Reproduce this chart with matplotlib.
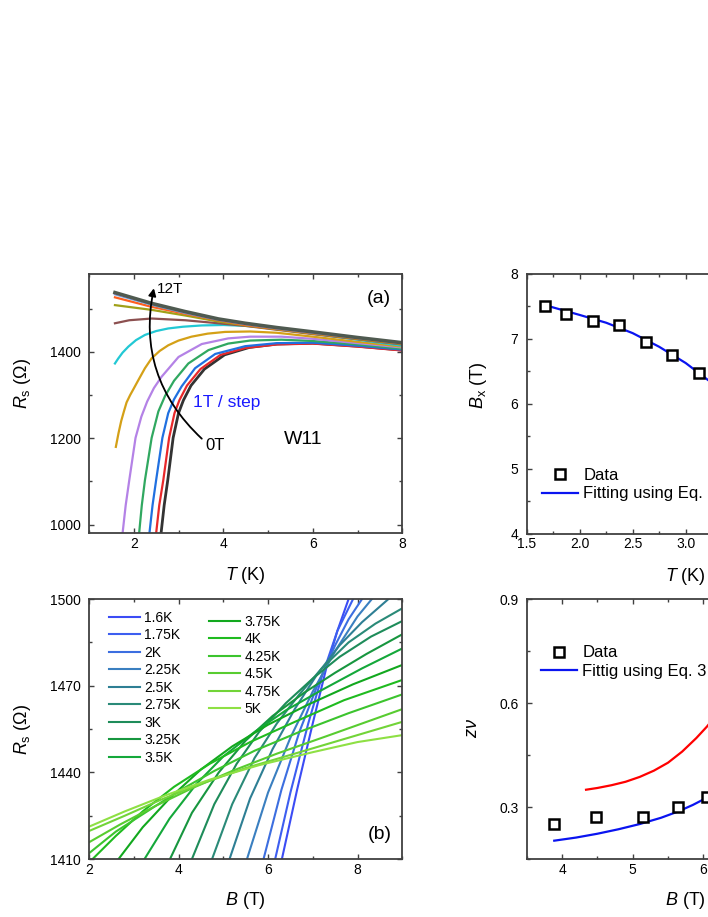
import matplotlib.pyplot as plt
from matplotlib.ticker import MultipleLocator, FormatStrFormatter

plt.rcParams['font.family'] = ['Liberation Sans', 'DejaVu Sans']
plt.rcParams['mathtext.fontset'] = 'custom'
plt.rcParams['mathtext.rm'] = 'Liberation Sans'
plt.rcParams['mathtext.it'] = 'Liberation Sans:italic'
plt.rcParams['mathtext.bf'] = 'Liberation Sans:bold'

# ---- (a) R_s(T) at fixed field, 0T .. 12T ----
T_0T = [2.57, 2.61, 2.68, 2.76, 2.88, 3.00, 3.11, 3.28, 3.58, 4.03, 4.58, 5.2, 6.0, 7.0, 8.0]
R_0T = [900, 980, 1045, 1103, 1201, 1258, 1288, 1322, 1360, 1393, 1410, 1418, 1420, 1413, 1404]
T_1T = [2.46, 2.50, 2.57, 2.66, 2.79, 2.91, 3.02, 3.19, 3.49, 3.94, 4.50, 5.2, 6.0, 7.0, 8.0]
R_1T = [900, 980, 1045, 1103, 1201, 1258, 1288, 1322, 1360, 1393, 1409, 1417, 1419, 1412, 1403]
T_2T = [2.31, 2.35, 2.42, 2.50, 2.64, 2.77, 2.90, 3.07, 3.37, 3.82, 4.49, 5.2, 6.0, 7.0, 8.0]
R_2T = [900, 980, 1045, 1103, 1201, 1258, 1290, 1320, 1362, 1395, 1413, 1420, 1421, 1414, 1405]
T_3T = [2.09, 2.12, 2.18, 2.25, 2.40, 2.55, 2.70, 2.90, 3.22, 3.67, 4.11, 4.6, 5.3, 6.0, 7.0, 8.0]
R_3T = [900, 980, 1045, 1103, 1201, 1262, 1298, 1333, 1373, 1404, 1419, 1426, 1428, 1425, 1417, 1407]
T_4T = [1.72, 1.75, 1.82, 1.90, 2.04, 2.17, 2.30, 2.45, 2.62, 3.0, 3.52, 4.11, 4.6, 5.3, 6.0, 7.0, 8.0]
R_4T = [900, 980, 1045, 1103, 1201, 1250, 1285, 1316, 1342, 1388, 1418, 1431, 1435, 1435, 1430, 1420, 1410]
T_5T = [1.60, 1.66, 1.72, 1.78, 1.84, 1.92, 2.00, 2.10, 2.25, 2.40, 2.58, 2.77, 3.0, 3.29, 3.65, 4.04,
        4.6, 5.2, 6.0, 7.0, 8.0]
R_5T = [1180, 1212, 1240, 1262, 1283, 1300, 1315, 1334, 1362, 1385, 1402, 1415, 1426, 1435, 1442, 1446,
        1447, 1444, 1435, 1423, 1412]
T_6T = [1.58, 1.65, 1.75, 1.88, 2.05, 2.25, 2.50, 2.77, 3.1, 3.52, 4.0, 4.5, 5.2, 6.0, 7.0, 8.0]
R_6T = [1373, 1384, 1398, 1412, 1427, 1439, 1448, 1454, 1458, 1461, 1462, 1460, 1454, 1442, 1428, 1414]
T_7T = [1.58, 1.9, 2.4, 3.15, 3.89, 4.49, 5.2, 6.0, 7.0, 8.0]
R_7T = [1466, 1473, 1477, 1473, 1466, 1460, 1451, 1441, 1429, 1417]
T_hi = [1.58, 2.4, 3.15, 3.89, 4.49, 5.2, 6.0, 7.0, 8.0]
R_8T = [1508, 1497, 1484, 1470, 1461, 1452, 1442, 1430, 1418]
R_9T = [1526, 1504, 1488, 1473, 1462, 1453, 1443, 1431, 1419]
R_10T = [1533, 1509, 1490, 1474, 1464, 1454, 1444, 1432, 1420]
R_11T = [1535, 1511, 1492, 1475, 1465, 1455, 1445, 1432.5, 1420.5]
R_12T = [1537, 1512, 1493, 1476, 1466, 1456, 1446, 1433, 1421]

# ---- crossing field B_x vs T ----
T_cross = [1.675, 1.875, 2.125, 2.375, 2.625, 2.875, 3.125]
Bx_data = [7.50, 7.38, 7.27, 7.21, 6.95, 6.75, 6.47]
T_fit = [1.675, 2.0, 2.25, 2.5, 2.75, 3.0, 3.25, 3.4]
Bx_fit = [7.52, 7.37, 7.25, 7.09, 6.88, 6.63, 6.32, 6.10]

# ---- (b) R_s(B) isotherms ----
B_160 = [6.31, 6.65, 7.0, 7.3, 7.55, 7.8]
R_160 = [1410, 1434, 1457, 1476, 1489, 1500]
B_175 = [6.16, 6.5, 6.9, 7.2, 7.55, 7.9]
R_175 = [1410, 1433, 1457, 1473, 1489, 1500]
B_200 = [5.90, 6.3, 6.7, 7.1, 7.5, 7.8, 8.1]
R_200 = [1410, 1434, 1454, 1470, 1484, 1493, 1500]
B_225 = [5.53, 6.0, 6.5, 7.0, 7.5, 8.0, 8.32]
R_225 = [1410, 1433, 1452, 1468, 1482, 1494, 1500]
B_250 = [5.14, 5.6, 6.1, 6.6, 7.1, 7.6, 8.1, 8.69]
R_250 = [1410, 1431, 1448, 1462, 1474, 1484, 1492, 1500]
B_275 = [4.75, 5.2, 5.7, 6.2, 6.7, 7.2, 7.8, 8.4, 9.0]
R_275 = [1410, 1429, 1445, 1457, 1467, 1476, 1485, 1491.5, 1496.8]
B_300 = [4.30, 4.8, 5.3, 5.8, 6.4, 7.0, 7.6, 8.3, 9.0]
R_300 = [1410, 1429, 1443, 1454, 1464, 1472.5, 1480, 1487, 1492.4]
B_325 = [3.81, 4.3, 4.9, 5.5, 6.1, 6.8, 7.5, 8.2, 9.0]
R_325 = [1410, 1426, 1440, 1451, 1459.5, 1467.5, 1474.5, 1481, 1487.8]
B_350 = [3.24, 3.8, 4.4, 5.0, 5.7, 6.4, 7.2, 8.1, 9.0]
R_350 = [1410, 1424, 1436, 1445.5, 1454, 1461.5, 1468.5, 1476, 1482.9]
B_375 = [2.66, 3.2, 3.8, 4.5, 5.2, 6.0, 6.9, 7.9, 9.0]
R_375 = [1410, 1421, 1431, 1441, 1449, 1456.5, 1463.5, 1470.5, 1477.2]
B_400 = [2.08, 2.6, 3.2, 3.9, 4.7, 5.6, 6.6, 7.7, 9.0]
R_400 = [1410, 1418, 1426.5, 1435, 1443, 1450.5, 1457.5, 1465, 1472]
B_425 = [2.0, 2.6, 3.3, 4.0, 4.8, 5.7, 6.7, 7.8, 9.0]
R_425 = [1412, 1419.5, 1426.5, 1433.5, 1440.5, 1447.5, 1454, 1460.5, 1467]
B_450 = [2.0, 2.7, 3.5, 4.3, 5.2, 6.2, 7.3, 9.0]
R_450 = [1415.8, 1422, 1428.5, 1434.5, 1440.5, 1446.5, 1452.5, 1461.9]
B_475 = [2.0, 2.8, 3.6, 4.5, 5.5, 6.6, 7.8, 9.0]
R_475 = [1419.7, 1425, 1430.5, 1436, 1441.5, 1446.5, 1452, 1457.5]
B_500 = [2.0, 2.8, 3.7, 4.7, 5.8, 7.0, 8.0, 9.0]
R_500 = [1421.2, 1426.5, 1432, 1437.5, 1442.5, 1447, 1450.5, 1452.9]

# ---- z*nu vs B ----
B_zn = [3.88, 4.48, 5.14, 5.64, 6.05]
zn_data = [0.251, 0.271, 0.271, 0.301, 0.330]
B_zn_fit = [3.89, 4.2, 4.5, 4.8, 5.1, 5.4, 5.64, 5.85, 6.05, 6.3]
zn_fit = [0.203, 0.212, 0.223, 0.236, 0.251, 0.269, 0.287, 0.306, 0.327, 0.357]
B_zn_red = [4.34, 4.5, 4.7, 4.9, 5.1, 5.3, 5.5, 5.7, 5.9, 6.05, 6.3]
zn_red = [0.350, 0.355, 0.363, 0.373, 0.387, 0.405, 0.428, 0.460, 0.499, 0.532, 0.595]

spine_c = '#404040'


def style(ax):
    for s in ax.spines.values():
        s.set_color(spine_c)
        s.set_linewidth(1.3)
    ax.tick_params(which='both', direction='in', top=True, right=True,
                   color=spine_c, width=1.0, labelsize=10)
    ax.tick_params(which='major', length=3.5)
    ax.tick_params(which='minor', length=2.2)
    ax.tick_params(axis='x', pad=2.5)
    ax.tick_params(axis='y', pad=6)


fig = plt.figure(figsize=(7.08, 9.17), dpi=100)

# (a)
ax1 = fig.add_axes([0.1257, 0.4184, 0.4425, 0.2828])
curves_a = [
    (T_0T, R_0T, '#333333', 2.0), (T_1T, R_1T, '#e8282a', 1.6),
    (T_2T, R_2T, '#2070e0', 1.6), (T_3T, R_3T, '#30a860', 1.6),
    (T_4T, R_4T, '#b482e6', 1.6), (T_5T, R_5T, '#d4a017', 1.6),
    (T_6T, R_6T, '#22c8d4', 1.6), (T_7T, R_7T, '#8c5050', 1.6),
    (T_hi, R_8T, '#a0a018', 1.6), (T_hi, R_9T, '#ff6020', 1.6),
    (T_hi, R_10T, '#60a8e8', 1.6), (T_hi, R_11T, '#e377c2', 1.6),
    (T_hi, R_12T, '#4f5a50', 2.6),
]
for t, r, c, lw in curves_a:
    ax1.plot(t, r, color=c, lw=lw)
ax1.set_xlim(1, 8)
ax1.set_ylim(980, 1580)
ax1.xaxis.set_major_locator(MultipleLocator(2))
ax1.xaxis.set_minor_locator(MultipleLocator(1))
ax1.yaxis.set_major_locator(MultipleLocator(200))
ax1.yaxis.set_minor_locator(MultipleLocator(100))
style(ax1)
ax1.set_xlabel(r'$T$ (K)', fontsize=13, va='center')
ax1.set_ylabel(r'$R_\mathrm{s}$ (Ω)', fontsize=13, va='center')
ax1.xaxis.set_label_coords(0.5, -0.161)
ax1.yaxis.set_label_coords(-0.212, 0.578)
ax1.annotate('', xy=(2.45, 1547), xytext=(3.52, 1199),
             arrowprops=dict(arrowstyle='-|>', connectionstyle='arc3,rad=-0.28',
                             color='k', lw=1.3, shrinkA=0, shrinkB=0, mutation_scale=11))
ax1.text(2.51, 1545, '12T', fontsize=11, ha='left', va='center')
ax1.text(3.61, 1184, '0T', fontsize=12, ha='left', va='center')
ax1.text(3.33, 1283, '1T / step', fontsize=12.5, color='#1a1aff', ha='left', va='center')
ax1.text(5.36, 1197, 'W11', fontsize=14, ha='left', va='center')
ax1.text(0.887, 0.907, '(a)', fontsize=14, transform=ax1.transAxes, ha='left', va='center')

# B_x vs T
ax2 = fig.add_axes([0.7439, 0.4177, 0.4492, 0.2835])
ax2.plot(T_fit, Bx_fit, color='#0a14f0', lw=1.6, label='Fitting using Eq. 2')
ax2.plot(T_cross, Bx_data, ls='none', marker='s', ms=7, mfc='white', mec='k', mew=1.8,
         label='Data')
ax2.set_xlim(1.5, 4.5)
ax2.set_ylim(4, 8)
ax2.xaxis.set_major_locator(MultipleLocator(0.5))
ax2.xaxis.set_minor_locator(MultipleLocator(0.25))
ax2.xaxis.set_major_formatter(FormatStrFormatter('%.1f'))
ax2.yaxis.set_major_locator(MultipleLocator(1))
ax2.yaxis.set_minor_locator(MultipleLocator(0.5))
style(ax2)
ax2.set_xlabel(r'$T$ (K)', fontsize=13, va='center')
ax2.set_ylabel(r'$B_\mathrm{x}$ (T)', fontsize=13, va='center')
ax2.xaxis.set_label_coords(0.5, -0.162)
ax2.yaxis.set_label_coords(-0.152, 0.573)
h, l = ax2.get_legend_handles_labels()
ax2.legend(h[::-1], l[::-1], loc='upper left', bbox_to_anchor=(0.047, 0.255), frameon=False,
           fontsize=12, handlelength=2.2, handletextpad=0.3, labelspacing=0.22,
           borderpad=0, borderaxespad=0)

# (b)
ax3 = fig.add_axes([0.1257, 0.0632, 0.4425, 0.2835])
curves_b = [
    (B_160, R_160, '#3b4cf5', '1.6K'), (B_175, R_175, '#3d5ef0', '1.75K'),
    (B_200, R_200, '#3c6ee0', '2K'), (B_225, R_225, '#3a7fc0', '2.25K'),
    (B_250, R_250, '#2e7f94', '2.5K'), (B_275, R_275, '#2a8a78', '2.75K'),
    (B_300, R_300, '#1e8c5a', '3K'), (B_325, R_325, '#17963f', '3.25K'),
    (B_350, R_350, '#14a83a', '3.5K'), (B_375, R_375, '#12a81e', '3.75K'),
    (B_400, R_400, '#1fbb1f', '4K'), (B_425, R_425, '#3cc42e', '4.25K'),
    (B_450, R_450, '#58cc30', '4.5K'), (B_475, R_475, '#72d438', '4.75K'),
    (B_500, R_500, '#8ee044', '5K'),
]
lines_b = []
for b, r, c, lab in curves_b:
    ln, = ax3.plot(b, r, color=c, lw=1.5, label=lab)
    lines_b.append(ln)
ax3.set_xlim(2, 9)
ax3.set_ylim(1410, 1500)
ax3.xaxis.set_major_locator(MultipleLocator(2))
ax3.xaxis.set_minor_locator(MultipleLocator(1))
ax3.yaxis.set_major_locator(MultipleLocator(30))
ax3.yaxis.set_minor_locator(MultipleLocator(15))
style(ax3)
ax3.set_xlabel(r'$B$ (T)', fontsize=13, va='center')
ax3.set_ylabel(r'$R_\mathrm{s}$ (Ω)', fontsize=13, va='center')
ax3.xaxis.set_label_coords(0.5, -0.158)
ax3.yaxis.set_label_coords(-0.212, 0.497)
leg_kw = dict(loc='upper left', frameon=False, fontsize=10, handlelength=2.25,
              handletextpad=0.3, labelspacing=0.25, borderpad=0, borderaxespad=0)
leg1 = ax3.legend(lines_b[:9], [c[3] for c in curves_b[:9]], bbox_to_anchor=(0.064, 0.955), **leg_kw)
ax3.add_artist(leg1)
ax3.legend(lines_b[9:], [c[3] for c in curves_b[9:]], bbox_to_anchor=(0.383, 0.94), **leg_kw)
ax3.text(0.89, 0.096, '(b)', fontsize=14, transform=ax3.transAxes, ha='left', va='center')

# z*nu vs B
ax4 = fig.add_axes([0.7439, 0.0632, 0.4492, 0.2835])
ax4.plot(B_zn_red, zn_red, color='#ff0000', lw=1.6)
ax4.plot(B_zn_fit, zn_fit, color='#0a14f0', lw=1.6, label='Fittig using Eq. 3')
ax4.plot(B_zn, zn_data, ls='none', marker='s', ms=7, mfc='white', mec='k', mew=1.8,
         label='Data')
ax4.set_xlim(3.5, 8)
ax4.set_ylim(0.15, 0.9)
ax4.xaxis.set_major_locator(MultipleLocator(1))
ax4.xaxis.set_minor_locator(MultipleLocator(0.5))
ax4.yaxis.set_major_locator(MultipleLocator(0.3))
ax4.yaxis.set_minor_locator(MultipleLocator(0.15))
ax4.yaxis.set_major_formatter(FormatStrFormatter('%.1f'))
style(ax4)
ax4.set_xlabel(r'$B$ (T)', fontsize=13, va='center')
ax4.set_ylabel(r'$z\nu$', fontsize=13, va='center')
ax4.xaxis.set_label_coords(0.5, -0.158)
ax4.yaxis.set_label_coords(-0.169, 0.504)
h, l = ax4.get_legend_handles_labels()
ax4.legend(h[::-1], l[::-1], loc='upper left', bbox_to_anchor=(0.044, 0.822), frameon=False,
           fontsize=12, handlelength=2.2, handletextpad=0.3, labelspacing=0.22,
           borderpad=0, borderaxespad=0)

fig.savefig('out.png', dpi=100)
